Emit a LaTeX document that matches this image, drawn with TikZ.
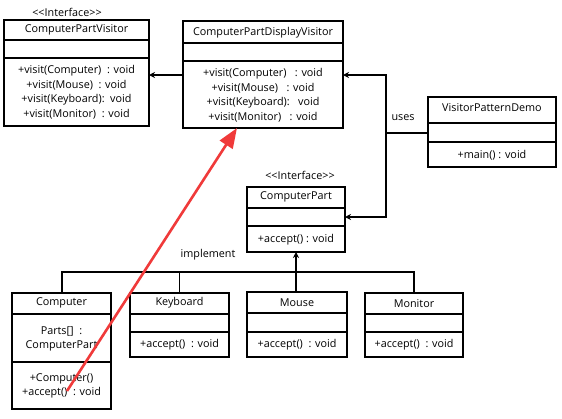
\documentclass[tikz,border=0pt]{standalone}
\usepackage{fontspec}
\setmainfont{Open Sans}
\usetikzlibrary{arrows.meta}
\definecolor{redarrow}{RGB}{240,58,58}
\tikzset{
  cls/.style={draw=black, line width=1.5pt, inner sep=0pt, outer sep=0pt, anchor=north west, fill=white},
  div/.style={line width=1.5pt},
  txt/.style={inner sep=0pt, align=center, font=\fontsize{10.8}{14.5}\selectfont},
  conn/.style={line width=1.5pt, -{Stealth[length=6pt,width=6pt]}},
  plain/.style={line width=1.5pt},
}
\begin{document}
\begin{tikzpicture}[x=1pt,y=-1pt]
\useasboundingbox[fill=white] (0,0) rectangle (562,418);
% ComputerPartVisitor
\node[txt] (i1) at (67,12) {<\kern0pt<Interface>\kern0pt>};
\node[cls, minimum width=145pt, minimum height=106pt] (cpv) at (4,20) {};
\draw[div] (4,40) -- (149,40) (4,58) -- (149,58);
\node[txt] (cpvt) at (76.5,30) {ComputerPartVisitor};
\node[txt] (cpvm) at (76.5,92) {+visit(Computer)\ \ : void\\+visit(Mouse)\ \ : void\\+visit(Keyboard):\ \ void\\+visit(Monitor)\ \ : void};
% ComputerPartDisplayVisitor
\node[cls, minimum width=160pt, minimum height=107pt] (cpdv) at (183,21) {};
\draw[div] (183,43) -- (343,43) (183,61) -- (343,61);
\node[txt] (cpdvt) at (263,33) {ComputerPartDisplayVisitor};
\node[txt] (cpdvm) at (263,95) {+visit(Computer)\ \ \ : void\\+visit(Mouse)\ \ \ : void\\+visit(Keyboard):\ \ \ void\\+visit(Monitor)\ \ \ : void};
% VisitorPatternDemo
\node[cls, minimum width=128pt, minimum height=70pt] (vpd) at (428,97) {};
\draw[div] (428,123) -- (556,123) (428,142) -- (556,142);
\node[txt] (vpdt) at (492,108) {VisitorPatternDemo};
\node[txt] (vpdm) at (492,155) {+main() : void};
% ComputerPart
\node[txt] (i2) at (300,175) {<\kern0pt<Interface>\kern0pt>};
\node[cls, minimum width=98pt, minimum height=65pt] (cp) at (247,187) {};
\draw[div] (247,208) -- (345,208) (247,226) -- (345,226);
\node[txt] (cpt) at (296,197) {ComputerPart};
\node[txt] (cpm) at (296,240) {+accept() : void};
% Computer
\node[cls, minimum width=99pt, minimum height=116pt] (comp) at (12,293) {};
\draw[div] (12,314) -- (111,314) (12,362) -- (111,362);
\node[txt] (compt) at (61.5,303) {Computer};
\node[txt] (compa) at (61.5,339) {Parts[]\ \ :\\ComputerPart};
\node[txt] (compm) at (61.5,386) {+Computer()\\+accept()\ \ : void};
% Keyboard
\node[cls, minimum width=99pt, minimum height=64pt] (kb) at (130,293) {};
\draw[div] (130,314) -- (229,314) (130,332) -- (229,332);
\node[txt] (kbt) at (179.5,303) {Keyboard};
\node[txt] (kbm) at (179.5,345) {+accept()\ \ : void};
% Mouse
\node[cls, minimum width=100pt, minimum height=65pt] (ms) at (247,292) {};
\draw[div] (247,313) -- (347,313) (247,332) -- (347,332);
\node[txt] (mst) at (297,303) {Mouse};
\node[txt] (msm) at (297,345) {+accept()\ \ : void};
% Monitor
\node[cls, minimum width=98pt, minimum height=64pt] (mn) at (365,293) {};
\draw[div] (365,314) -- (463,314) (365,332) -- (463,332);
\node[txt] (mnt) at (414,304) {Monitor};
\node[txt] (mnm) at (414,345) {+accept()\ \ : void};
% connectors
\draw[conn] (cpdv.west |- 0,75) -- (cpv.east |- 0,75);
\coordinate (ux) at (386,133);
\draw[plain] (vpd.west |- ux) -- (ux);
\draw[conn] (ux) -- (386,75) -- (cpdv.east |- 0,75);
\draw[conn] (ux) -- (386,217) -- (cp.east |- 0,217);
\node[txt] (uses) at (403,118) {uses};
% implement
\coordinate (hl) at (62,272);
\coordinate (hr) at (414,272);
\draw[plain] (comp.north -| hl) -- (hl) -- (hr) -- (mn.north -| hr);
\draw[plain] (kb.north) -- (kb.north |- hl);
\draw[plain] (ms.north -| 296,0) -- (296,272);
\draw[conn] (296,272) -- (cp.south -| 296,0);
\node[txt] (impl) at (208,255) {implement};
% red arrow
\coordinate (rs) at (67,391);
\draw[redarrow, line width=2.6pt, -{Triangle[length=20pt,width=15pt]}] (rs) -- (237,128);
\end{tikzpicture}
\end{document}
